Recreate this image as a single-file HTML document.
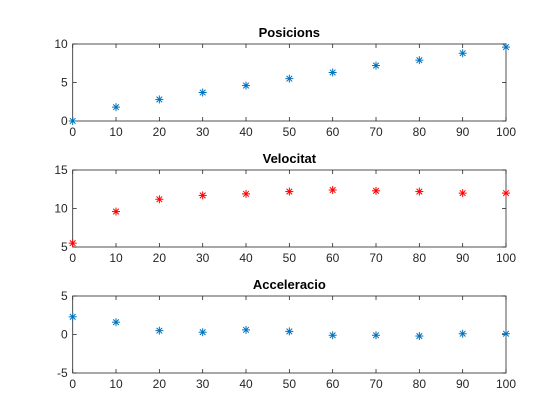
<!DOCTYPE html>
<html><head><meta charset="utf-8"><style>
body{margin:0;background:#fff;}
svg{display:block;font-family:"Liberation Sans",sans-serif;}
</style></head><body>
<svg id="fig" width="560" height="420"></svg>
<script>
const xValues=[0,10,20,30,40,50,60,70,80,90,100];
const xTicks=[0,10,20,30,40,50,60,70,80,90,100];
const posValues=[0,1.8,2.8,3.7,4.6,5.5,6.3,7.2,7.9,8.8,9.6];
const velValues=[5.5,9.6,11.2,11.7,11.9,12.2,12.4,12.3,12.2,12.0,12.0];
const accValues=[2.3,1.6,0.5,0.3,0.6,0.4,-0.1,-0.1,-0.2,0.1,0.1];
const posTicks=[0,5,10];
const velTicks=[5,10,15];
const accTicks=[-5,0,5];
const titles=["Posicions","Velocitat","Acceleracio"];

const NS="http://www.w3.org/2000/svg";
const svg=document.getElementById('fig');
function mk(tag,attrs,parent){const e=document.createElementNS(NS,tag);for(const k in attrs)e.setAttribute(k,attrs[k]);(parent||svg).appendChild(e);return e;}
const L=72.7,R=506;
const panels=[
 {top:44,bot:121,vals:posValues,ticks:posTicks,color:"#0072bd",name:"posicions"},
 {top:170,bot:247,vals:velValues,ticks:velTicks,color:"#ff0000",name:"velocitat"},
 {top:296,bot:373,vals:accValues,ticks:accTicks,color:"#0072bd",name:"acceleracio"}
];
panels.forEach((p,i)=>{
 const g=mk('g',{});
 
 
 const ymin=p.ticks[0],ymax=p.ticks[p.ticks.length-1];
 const sx=v=>L+(v-xTicks[0])/(xTicks[xTicks.length-1]-xTicks[0])*(R-L);
 const sy=v=>p.bot-(v-ymin)/(ymax-ymin)*(p.bot-p.top);
 const box=mk('rect',{x:L,y:p.top,width:R-L,height:p.bot-p.top,fill:'#fff',stroke:'#262626','stroke-width':0.8},g);
 
 
 xTicks.forEach(t=>{
  const x=sx(t);
  mk('line',{x1:x,x2:x,y1:p.bot,y2:p.bot-4,stroke:'#262626','stroke-width':0.8},g);
  mk('line',{x1:x,x2:x,y1:p.top,y2:p.top+4,stroke:'#262626','stroke-width':0.8},g);
  const tx=mk('text',{x:x,y:p.bot+15,'text-anchor':'middle','font-size':12,fill:'#262626'},g);
  tx.textContent=t;
  
  
 });
 p.ticks.forEach(t=>{
  const y=sy(t);
  mk('line',{x1:L,x2:L+4,y1:y,y2:y,stroke:'#262626','stroke-width':0.8},g);
  mk('line',{x1:R,x2:R-4,y1:y,y2:y,stroke:'#262626','stroke-width':0.8},g);
  const tx=mk('text',{x:L-5,y:y+4,'text-anchor':'end','font-size':12,fill:'#262626'},g);
  tx.textContent=t;
  
  
 });
 const tt=mk('text',{x:(L+R)/2,y:p.top-7,'text-anchor':'middle','font-size':13,'font-weight':'bold',fill:'#000'},g);
 tt.textContent=titles[i];
 
 
 p.vals.forEach((v,j)=>{
  const x=sx(xValues[j]),y=sy(v),r=4;
  const m=mk('g',{stroke:p.color,'stroke-width':1,fill:'none'},g);
  
  
  mk('line',{x1:x-r,x2:x+r,y1:y,y2:y},m);
  mk('line',{x1:x,x2:x,y1:y-r,y2:y+r},m);
  mk('line',{x1:x-r*0.7,x2:x+r*0.7,y1:y-r*0.7,y2:y+r*0.7},m);
  mk('line',{x1:x-r*0.7,x2:x+r*0.7,y1:y+r*0.7,y2:y-r*0.7},m);
 });
});
</script>
</body></html>
